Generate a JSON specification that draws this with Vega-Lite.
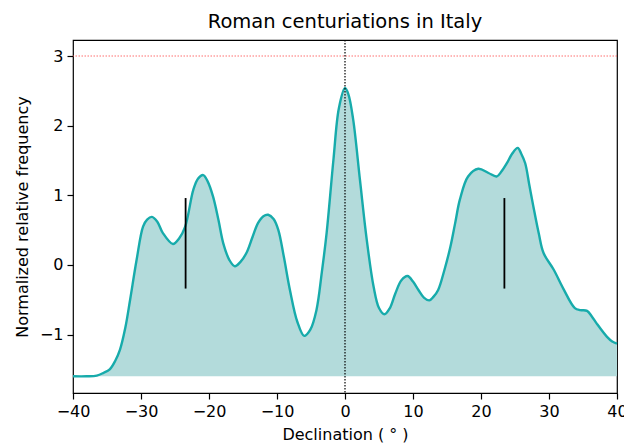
{
  "$schema": "https://vega.github.io/schema/vega-lite/v6.json",
  "autosize": "none",
  "width": 544,
  "height": 353,
  "padding": {"left": 73, "top": 40, "right": 7, "bottom": 52},
  "title": {"text": "Roman centuriations in Italy", "fontSize": 19.5, "font": "DejaVu Sans", "fontWeight": "normal", "offset": 7, "color": "black"},
  "datasets": {
    "curve": [
      {"decl": -40, "freq": -1.6}, {"decl": -38, "freq": -1.6}, {"decl": -36.5, "freq": -1.59}, {"decl": -35.5, "freq": -1.55},
      {"decl": -34.6, "freq": -1.5}, {"decl": -33.8, "freq": -1.38}, {"decl": -33.1, "freq": -1.22}, {"decl": -32.3, "freq": -0.9},
      {"decl": -31.6, "freq": -0.5}, {"decl": -30.65, "freq": 0.07}, {"decl": -29.7, "freq": 0.55}, {"decl": -29.1, "freq": 0.65},
      {"decl": -28.4, "freq": 0.69}, {"decl": -27.6, "freq": 0.62}, {"decl": -26.8, "freq": 0.46}, {"decl": -25.3, "freq": 0.3},
      {"decl": -24.4, "freq": 0.38}, {"decl": -23.5, "freq": 0.55}, {"decl": -22.3, "freq": 1.08}, {"decl": -21.6, "freq": 1.24},
      {"decl": -20.85, "freq": 1.29}, {"decl": -20.2, "freq": 1.2}, {"decl": -19.4, "freq": 0.98}, {"decl": -18.6, "freq": 0.64},
      {"decl": -17.9, "freq": 0.31}, {"decl": -17.0, "freq": 0.07}, {"decl": -16.2, "freq": -0.02}, {"decl": -15.4, "freq": 0.04},
      {"decl": -14.5, "freq": 0.17}, {"decl": -13.6, "freq": 0.4}, {"decl": -12.8, "freq": 0.6}, {"decl": -12.0, "freq": 0.7}, {"decl": -11.3, "freq": 0.72},
      {"decl": -10.5, "freq": 0.66}, {"decl": -9.8, "freq": 0.5}, {"decl": -9.0, "freq": 0.12}, {"decl": -8.1, "freq": -0.36},
      {"decl": -7.0, "freq": -0.82}, {"decl": -6.0, "freq": -1.02}, {"decl": -5.1, "freq": -0.93}, {"decl": -4.2, "freq": -0.65},
      {"decl": -3.4, "freq": -0.1}, {"decl": -2.7, "freq": 0.46}, {"decl": -1.7, "freq": 1.51}, {"decl": -0.9, "freq": 2.25},
      {"decl": 0, "freq": 2.54}, {"decl": 0.5, "freq": 2.45}, {"decl": 1.2, "freq": 2.09}, {"decl": 2.2, "freq": 1.22},
      {"decl": 3.2, "freq": 0.36}, {"decl": 4.2, "freq": -0.31}, {"decl": 5.0, "freq": -0.62}, {"decl": 5.8, "freq": -0.71},
      {"decl": 6.6, "freq": -0.62}, {"decl": 7.4, "freq": -0.41}, {"decl": 8.3, "freq": -0.22}, {"decl": 9.2, "freq": -0.16},
      {"decl": 10.0, "freq": -0.24}, {"decl": 10.8, "freq": -0.36}, {"decl": 11.6, "freq": -0.47}, {"decl": 12.4, "freq": -0.51},
      {"decl": 13.0, "freq": -0.46}, {"decl": 13.7, "freq": -0.36}, {"decl": 14.6, "freq": -0.08}, {"decl": 15.5, "freq": 0.26},
      {"decl": 16.2, "freq": 0.6}, {"decl": 16.9, "freq": 0.94}, {"decl": 18.1, "freq": 1.27}, {"decl": 19.6, "freq": 1.38},
      {"decl": 21.1, "freq": 1.32}, {"decl": 22.3, "freq": 1.27}, {"decl": 23.0, "freq": 1.34}, {"decl": 23.8, "freq": 1.46},
      {"decl": 24.6, "freq": 1.6}, {"decl": 25.4, "freq": 1.68}, {"decl": 25.9, "freq": 1.6}, {"decl": 26.5, "freq": 1.46},
      {"decl": 27.1, "freq": 1.15}, {"decl": 27.7, "freq": 0.84}, {"decl": 28.5, "freq": 0.45}, {"decl": 29.2, "freq": 0.17},
      {"decl": 30.7, "freq": -0.07}, {"decl": 32.1, "freq": -0.34}, {"decl": 33.8, "freq": -0.62}, {"decl": 34.6, "freq": -0.65},
      {"decl": 35.6, "freq": -0.66}, {"decl": 36.3, "freq": -0.74}, {"decl": 37.0, "freq": -0.84}, {"decl": 38.5, "freq": -1.03},
      {"decl": 39.3, "freq": -1.1}, {"decl": 40, "freq": -1.13}
    ],
    "solstice": [
      {"decl": -23.44, "lo": -0.34, "hi": 0.96},
      {"decl": 23.44, "lo": -0.34, "hi": 0.96}
    ],
    "threshold": [{"level": 3}],
    "equator": [{"decl": 0}]
  },
  "layer": [
    {
      "data": {"name": "curve"},
      "mark": {"type": "area", "interpolate": "catmull-rom", "color": "#b3dbdb"},
      "encoding": {
        "x": {"field": "decl", "type": "quantitative",
              "scale": {"domain": [-40, 40], "nice": false, "zero": false},
              "axis": {"values": [-40, -30, -20, -10, 0, 10, 20, 30, 40], "title": "Declination ( ° )", "titlePadding": 7}},
        "y": {"field": "freq", "type": "quantitative",
              "scale": {"domain": [-1.84, 3.23], "nice": false, "zero": false},
              "axis": {"values": [-1, 0, 1, 2, 3], "format": "d", "title": "Normalized relative frequency", "titlePadding": 9}},
        "y2": {"datum": -1.6}
      }
    },
    {
      "data": {"name": "curve"},
      "mark": {"type": "line", "interpolate": "catmull-rom", "color": "#17abab", "strokeWidth": 2.4},
      "encoding": {
        "x": {"field": "decl", "type": "quantitative"},
        "y": {"field": "freq", "type": "quantitative"}
      }
    },
    {
      "data": {"name": "threshold"},
      "mark": {"type": "rule", "color": "#ff5555", "strokeWidth": 1, "strokeDash": [1.5, 1.5], "opacity": 0.85},
      "encoding": {"y": {"field": "level", "type": "quantitative"}}
    },
    {
      "data": {"name": "equator"},
      "mark": {"type": "rule", "color": "black", "strokeWidth": 1.2, "strokeDash": [1.5, 1.5]},
      "encoding": {"x": {"field": "decl", "type": "quantitative"}}
    },
    {
      "data": {"name": "solstice"},
      "mark": {"type": "rule", "color": "black", "strokeWidth": 1.8},
      "encoding": {
        "x": {"field": "decl", "type": "quantitative"},
        "y": {"field": "lo", "type": "quantitative"},
        "y2": {"field": "hi"}
      }
    }
  ],
  "config": {
    "view": {"stroke": "black", "strokeWidth": 1.2},
    "axis": {
      "grid": false,
      "domain": false,
      "labelFlush": false,
      "tickColor": "black",
      "tickSize": 6,
      "tickWidth": 1.2,
      "labelColor": "black",
      "labelFont": "DejaVu Sans",
      "labelFontSize": 16,
      "titleFont": "DejaVu Sans",
      "titleFontSize": 16,
      "titleFontWeight": "normal",
      "titleColor": "black",
      "labelPadding": 4
    }
  }
}
